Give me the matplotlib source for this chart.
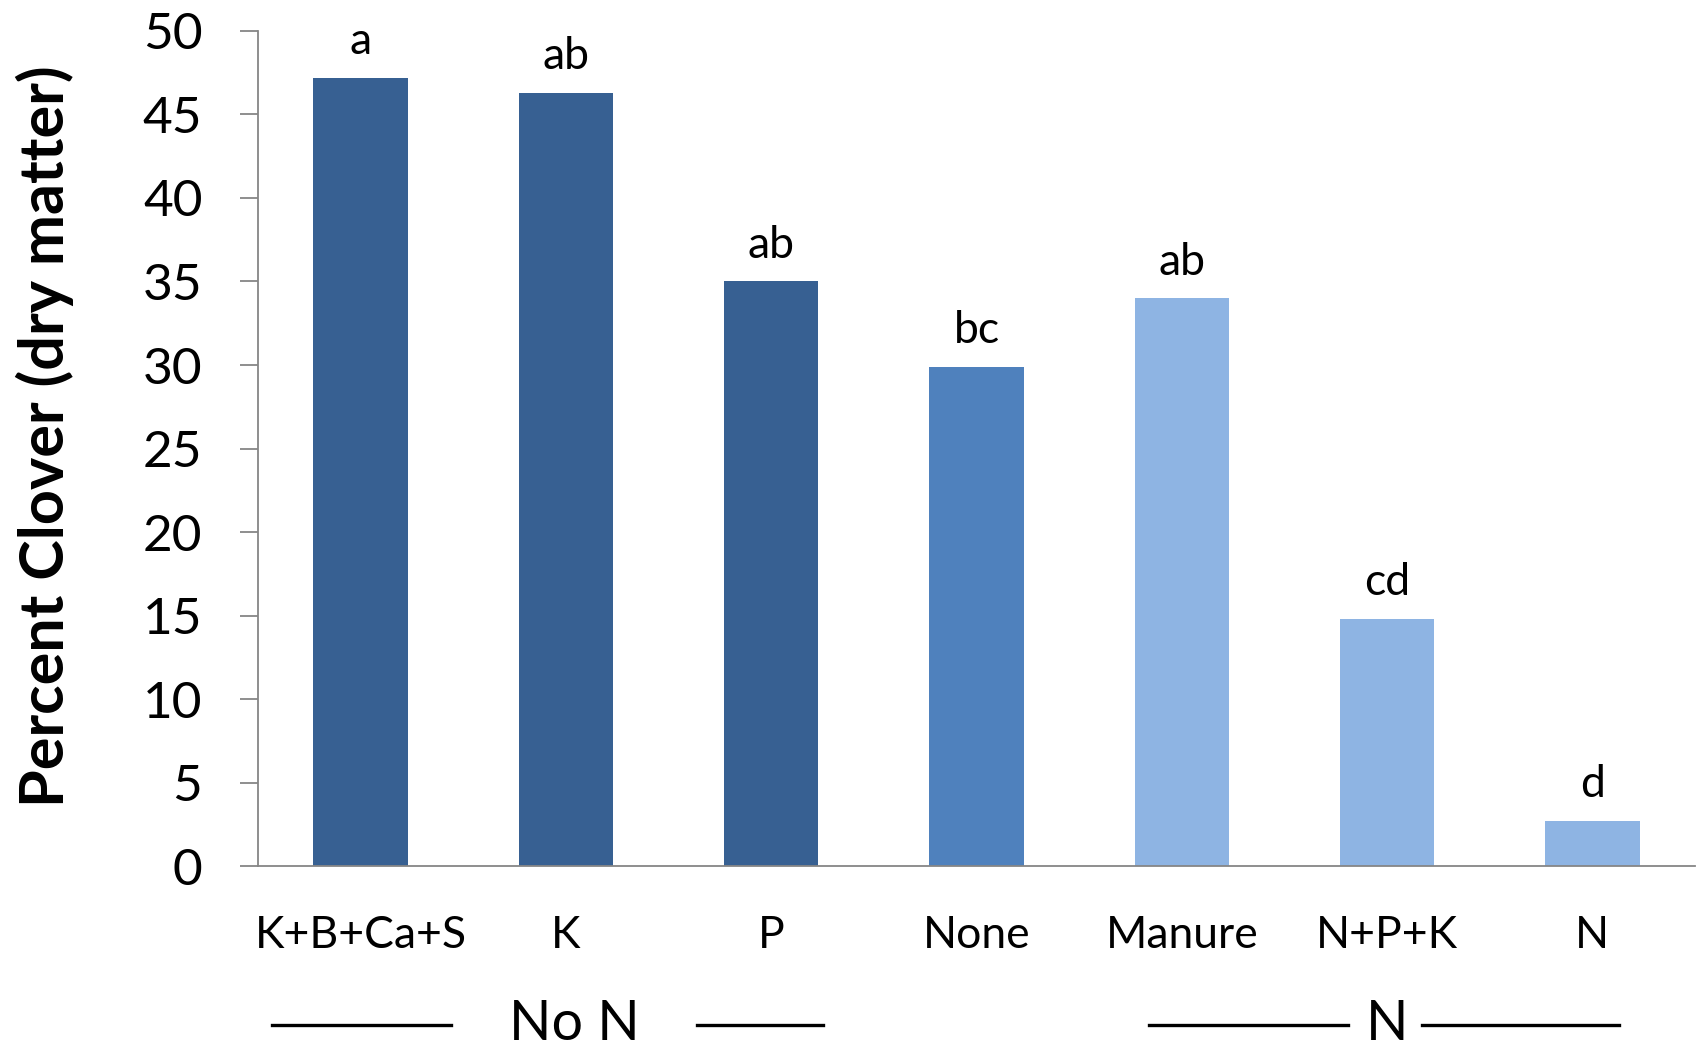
import matplotlib.pyplot as plt
import matplotlib.transforms as mtransforms

treatments = ["K+B+Ca+S", "K", "P", "None", "Manure", "N+P+K", "N"]
clover_pct = [47.2, 46.3, 35.0, 29.9, 34.0, 14.8, 2.7]
sig_letters = ["a", "ab", "ab", "bc", "ab", "cd", "d"]
bar_colors = ["#376092", "#376092", "#376092", "#4F81BD",
              "#8EB4E3", "#8EB4E3", "#8EB4E3"]

# group captions under the category labels: (text, centre, left line, right line)
groups = [("No N", 1.04, (-0.43, 0.44), (1.64, 2.25)),
          ("N", 5.0, (3.84, 4.81), (5.17, 6.13))]

plt.rcParams['font.family'] = ['Lato', 'DejaVu Sans']

fig = plt.figure(figsize=(17.04, 10.5), dpi=100)
ax = fig.add_axes([0.1514, 0.1752, 0.8433, 0.7953])

xs = range(len(treatments))
ax.bar(xs, clover_pct, width=0.46, color=bar_colors, zorder=2)

for x, v, lab in zip(xs, clover_pct, sig_letters):
    ax.annotate(lab, (x, v), xytext=(0, 17), textcoords="offset points",
                ha="center", va="baseline", fontsize=32)

ax.set_xlim(-0.5, len(treatments) - 0.5)
ax.set_ylim(0, 50)
ax.set_yticks(range(0, 51, 5))
ax.set_xticks(list(xs))
ax.set_xticklabels(treatments, fontsize=32)

grey = "#868686"
for side in ("top", "right"):
    ax.spines[side].set_visible(False)
for side in ("left", "bottom"):
    ax.spines[side].set_color(grey)
    ax.spines[side].set_linewidth(1.3)
ax.tick_params(axis="y", length=13, width=1.3, color=grey, pad=27,
               labelsize=37)
ax.tick_params(axis="x", length=0, pad=35)

ax.set_ylabel("Percent Clover (dry matter)", fontsize=44, fontweight="bold")
ax.yaxis.set_label_coords(-0.128, 0.515)

trans = mtransforms.blended_transform_factory(ax.transData, ax.transAxes)
ycap = -0.19
for text, cx, left, right in groups:
    ax.text(cx, ycap, text, transform=trans, ha="center", va="center",
            fontsize=40, clip_on=False)
    for x0, x1 in (left, right):
        ax.plot([x0, x1], [ycap, ycap], transform=trans, color="black",
                lw=2.4, clip_on=False)

fig.savefig("out.png", dpi=100)
